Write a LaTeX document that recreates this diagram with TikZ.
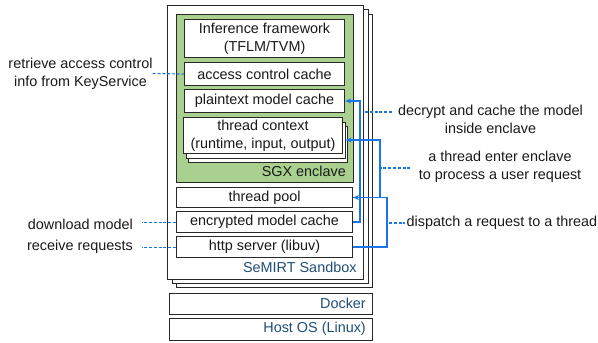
\documentclass[tikz,border=0pt]{standalone}
\usepackage{fontspec}
\setmainfont{Liberation Sans}
\usetikzlibrary{arrows.meta,calc}
\definecolor{connc}{RGB}{28,117,232}
\definecolor{sgxc}{RGB}{169,208,142}
\definecolor{lblue}{RGB}{31,78,121}
\definecolor{txtc}{RGB}{25,25,25}
\definecolor{edgec}{RGB}{40,40,40}
\begin{document}
\begin{tikzpicture}[x=1pt,y=-1pt,
  font=\fontsize{14.4}{18}\selectfont,
  frame/.style={draw=edgec, line width=1.1pt, fill=white, inner sep=0pt, anchor=north west},
  box/.style={frame, align=center, text=txtc},
  green/.style={draw=edgec, line width=1.1pt, fill=sgxc, inner sep=0pt, anchor=north west},
  lbl/.style={inner sep=0pt, text=txtc, align=center},
  blbl/.style={inner sep=0pt, text=lblue, anchor=east},
  conn/.style={draw=connc, line width=1.8pt, -{Stealth[length=6pt,width=5pt]}},
  dashline/.style={draw=connc, line width=1.1pt, dash pattern=on 3pt off 1.8pt}]
\useasboundingbox (0,0) rectangle (598,343);

% sandbox stack
\node[frame, minimum width=196pt, minimum height=273pt] (sb3) at (176,14) {};
\node[frame, minimum width=195.5pt, minimum height=274pt] (sb2) at (172,9) {};
\node[frame, minimum width=196pt, minimum height=274pt] (sb1) at (167,5) {};

% SGX enclave
\node[green, minimum width=177pt, minimum height=168pt] (sgx) at (176,14) {};
\node[lbl, anchor=east] (sgxl) at (346,171) {SGX enclave};

\node[box, minimum width=160pt, minimum height=38pt] (inf) at (184,19) {Inference framework\\(TFLM/TVM)};
\node[box, minimum width=160pt, minimum height=23pt] (acc) at (184,62) {access control cache};
\node[box, minimum width=160pt, minimum height=23pt] (plain) at (184,89) {plaintext model cache};
\node[frame, minimum width=159pt, minimum height=36pt] (tctx3) at (188,126) {};
\node[frame, minimum width=159pt, minimum height=36pt] (tctx2) at (185.5,121.5) {};
\node[box, minimum width=159pt, minimum height=36pt] (tctx) at (183,117) {thread context\\(runtime, input, output)};

\node[box, minimum width=176pt, minimum height=20pt] (pool) at (176,187) {thread pool};
\node[box, minimum width=176pt, minimum height=21pt] (enc) at (176,211) {encrypted model cache};
\node[box, minimum width=176pt, minimum height=21pt] (http) at (176,236) {http server (libuv)};
\node[blbl] (sbl) at (356.7,267.7) {SeMIRT Sandbox};

% docker and host
\node[frame, minimum width=203pt, minimum height=21pt] (docker) at (169,293) {};
\node[blbl] (dockerl) at (366,303.5) {Docker};
\node[frame, minimum width=203pt, minimum height=22pt] (host) at (169,318) {};
\node[blbl] (hostl) at (366,329) {Host OS (Linux)};

% connectors
\draw[conn] (enc.east) -- ++(7,0) |- (plain.east);
\draw[conn] (pool.east) -- ++(26.7,0) |- (tctx2.east);
\draw[conn] (http.east) -- ++(33.7,0) |- (pool.east);

% left labels
\node[lbl] (lacc) at (80.5,73.5) {retrieve access control\\info from KeyService};
\draw[dashline] (lacc.east) -- (acc.west);
\node[lbl, anchor=east] (ldl) at (133,224.5) {download model};
\draw[dashline, shorten >=9pt] (enc.west) -- (enc.west -| ldl.east);
\node[lbl, anchor=east] (lrr) at (133,246.5) {receive requests};
\draw[dashline, shorten >=9pt] (http.west) -- (http.west -| lrr.east);

% right labels
\node[lbl] (ldec) at (490.5,119.5) {decrypt and cache the model\\inside enclave};
\coordinate (d1) at (365,112);
\draw[dashline, shorten >=6pt] (d1) -- (d1 -| ldec.west);
\node[lbl] (lthr) at (500,166.5) {a thread enter enclave\\to process a user request};
\coordinate (t1) at (378.5,168);
\draw[dashline, shorten >=7pt] (t1) -- (t1 -| lthr.west);
\node[lbl, anchor=west] (ldisp) at (406.5,223) {dispatch a request to a thread};
\coordinate (p1) at (389,223);
\draw[dashline, shorten >=1.5pt] (p1) -- (ldisp.west);
\end{tikzpicture}
\end{document}
